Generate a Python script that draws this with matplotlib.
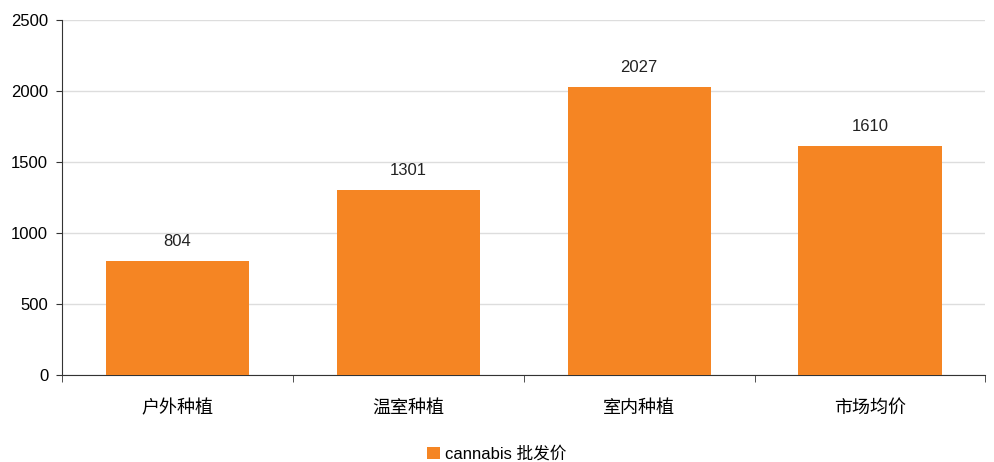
import matplotlib
matplotlib.use('Agg')
import matplotlib.pyplot as plt
import numpy as np

plt.rcParams['font.family'] = ['Liberation Sans', 'Noto Sans CJK SC']

categories = ['户外种植', '温室种植', '室内种植', '市场均价']
prices = [804, 1301, 2027, 1610]
y_ticks = [0, 500, 1000, 1500, 2000, 2500]
bar_color = '#F58523'

fig = plt.figure(figsize=(9.94, 4.62), dpi=100)
ax = fig.add_axes([0.0624, 0.188, 0.929, 0.769])

x = np.arange(len(categories))
bars = ax.bar(x, prices, width=0.62, color=bar_color, label='cannabis 批发价', zorder=3)

for xi, v in zip(x, prices):
    ax.text(xi, v + 85, str(v), ha='center', va='bottom', fontsize=12, color='#222222')

ax.set_xlim(-0.5, len(categories) - 0.5)
ax.set_ylim(0, 2500)
ax.set_yticks(y_ticks)
ax.set_yticklabels([str(t) for t in y_ticks], fontsize=12)
ax.yaxis.grid(True, color='#DDDDDD', linewidth=1, zorder=0)

# category labels sit between boundary ticks
ax.set_xticks(x)
ax.set_xticklabels(categories, fontsize=13)
ax.tick_params(axis='x', length=0, pad=18)
ax.set_xticks(np.arange(len(categories) + 1) - 0.5, minor=True)
ax.tick_params(axis='x', which='minor', length=5, direction='out', color='#333333')
ax.tick_params(axis='y', length=4, direction='out', color='#333333', pad=6)

for side in ['top', 'right']:
    ax.spines[side].set_visible(False)
ax.spines['left'].set_color('#333333')
ax.spines['bottom'].set_color('#333333')

fig.legend(handles=[bars], labels=['cannabis 批发价'], loc='lower center',
           bbox_to_anchor=(0.5, -0.032), frameon=False, fontsize=12,
           handlelength=0.8, handleheight=0.8, handletextpad=0.3)

fig.savefig('out.png', dpi=100)
